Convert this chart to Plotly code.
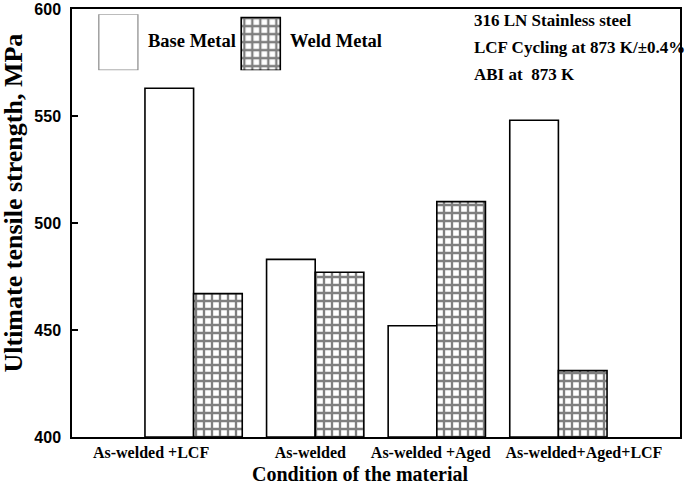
import plotly.graph_objects as go

# ---------------- data ----------------
categories = ["As-welded +LCF", "As-welded", "As-welded +Aged", "As-welded+Aged+LCF"]
base_metal = [563, 483, 452, 548]
weld_metal = [467, 477, 510, 431]
y_ticks = [400, 450, 500, 550, 600]
info_lines = ["316 LN Stainless steel", "LCF Cycling at 873 K/\u00b10.4%", "ABI at  873 K"]

# ---------------- layout constants ----------------
label_shift = [-0.35, -0.04, -0.05, 0.21]   # tick-label placement relative to group centre
idx = list(range(len(categories)))
SERIF = "Liberation Serif, Times New Roman, serif"
SANS = "Liberation Sans, Arial, sans-serif"
GRID = dict(shape="+", fgcolor="black", bgcolor="white", size=8, solidity=0.5)

fig = go.Figure()
fig.add_trace(go.Bar(
    x=idx, y=[v - 400 for v in base_metal], base=400, name="Base Metal",
    marker=dict(color="white", line=dict(color="black", width=1.6)),
    width=0.4, offset=-0.4, showlegend=False,
))
fig.add_trace(go.Bar(
    x=idx, y=[v - 400 for v in weld_metal], base=400, name="Weld Metal",
    marker=dict(color="white", line=dict(color="black", width=1.6), pattern=GRID),
    width=0.4, offset=0.0, showlegend=False,
))

# legend swatches drawn on a small inset axis
fig.add_trace(go.Bar(
    x=[22], y=[1], width=[39], xaxis="x2", yaxis="y2", showlegend=False, hoverinfo="skip",
    marker=dict(color="white", line=dict(color="#888888", width=1.2)),
))
fig.add_trace(go.Bar(
    x=[164], y=[0.94], width=[39], xaxis="x2", yaxis="y2", showlegend=False, hoverinfo="skip",
    marker=dict(color="white", line=dict(color="black", width=1.6), pattern=GRID),
))

annotations = [
    dict(text="<b>Base Metal</b>", xref="paper", yref="paper", x=0.122, y=0.925, xanchor="left",
         yanchor="middle", showarrow=False, font=dict(family=SERIF, size=18.5, color="black")),
    dict(text="<b>Weld Metal</b>", xref="paper", yref="paper", x=0.355, y=0.925, xanchor="left",
         yanchor="middle", showarrow=False, font=dict(family=SERIF, size=18.5, color="black")),
    dict(text="<b>Ultimate tensile strength, MPa</b>", xref="paper", yref="paper", x=-0.096, y=0.547,
         xanchor="center", yanchor="middle", textangle=-90, showarrow=False,
         font=dict(family=SERIF, size=26, color="black")),
    dict(text="<b>Condition of the material</b>", xref="paper", yref="paper", x=0.474, y=-0.086,
         xanchor="center", yanchor="middle", showarrow=False,
         font=dict(family=SERIF, size=20, color="black")),
]
for i, line in enumerate(info_lines):
    annotations.append(dict(text="<b>" + line + "</b>", xref="paper", yref="paper", x=0.658,
                            y=0.972 - i * 0.062, xanchor="left", yanchor="middle", showarrow=False,
                            font=dict(family=SERIF, size=17, color="black")))

fig.update_layout(
    width=685, height=486,
    margin=dict(l=72, r=5, t=9, b=49),
    paper_bgcolor="white", plot_bgcolor="white",
    barmode="overlay",
    showlegend=False,
    xaxis=dict(
        range=[-1, 4], tickmode="array",
        tickvals=[i + s for i, s in zip(idx, label_shift)],
        ticktext=["<b>" + c + "</b>" for c in categories],
        ticks="", showgrid=False, zeroline=False, automargin=False,
        showline=True, linecolor="black", linewidth=1.5, mirror=True,
        tickfont=dict(family=SERIF, size=16, color="black"),
    ),
    yaxis=dict(
        range=[400, 600], tickvals=y_ticks, ticktext=["<b>%d</b>" % t for t in y_ticks],
        ticks="inside", ticklen=6, tickwidth=1.5, tickcolor="black", ticklabelstandoff=6,
        showgrid=False, zeroline=False, automargin=False,
        showline=True, linecolor="black", linewidth=1.5, mirror=True,
        tickfont=dict(family=SANS, size=16, color="black"),
    ),
    xaxis2=dict(domain=[0.04, 0.35], range=[0, 188], visible=False, anchor="y2"),
    yaxis2=dict(domain=[0.857, 0.988], range=[0, 1], visible=False, anchor="x2"),
    annotations=annotations,
)

fig.write_html("out.html", config={"displayModeBar": False},
               post_script="document.body.style.margin='0';")
